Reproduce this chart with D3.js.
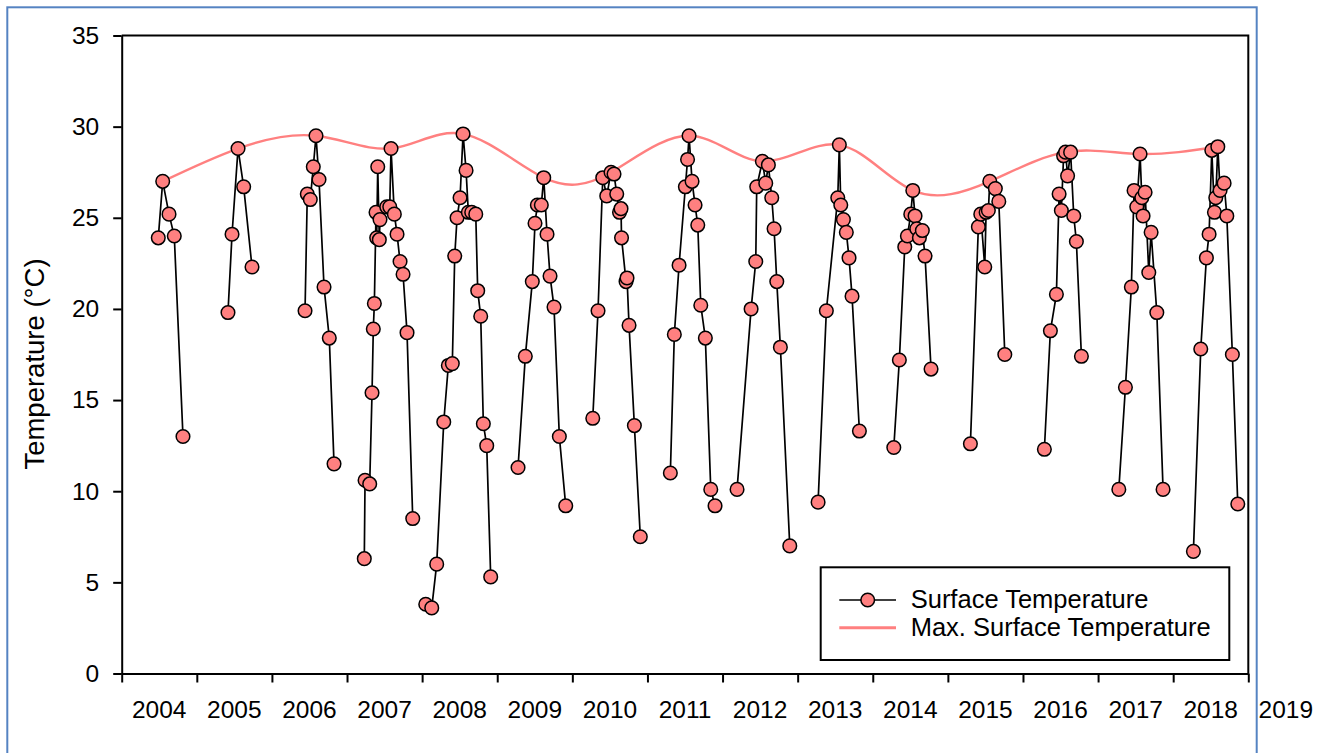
<!DOCTYPE html>
<html>
<head>
<meta charset="utf-8">
<script src="https://cdn.jsdelivr.net/npm/d3@7"></script>
<style>
  body { margin: 0; background: #fff; }
  svg { display: block; }
  text { font-family: "Liberation Sans", Arial, sans-serif; fill: #000; }
</style>
</head>
<body>
<svg id="chart" width="1330" height="753"></svg>
<script>
// ---- data -------------------------------------------------------------
const yearTicks = [2004, 2005, 2006, 2007, 2008, 2009, 2010, 2011, 2012, 2013, 2014, 2015, 2016, 2017, 2018, 2019];
const tempTicks = [0, 5, 10, 15, 20, 25, 30, 35];

// surface temperature samples (decimal year, °C); each year is its own survey run
const sampleDates = [
  2004.487, 2004.546, 2004.630, 2004.700, 2004.816,
  2005.415, 2005.469, 2005.549, 2005.624, 2005.735,
  2006.441, 2006.471, 2006.511, 2006.551, 2006.587, 2006.627, 2006.694, 2006.764, 2006.827,
  2007.230, 2007.240, 2007.302, 2007.333, 2007.350, 2007.364, 2007.386, 2007.395, 2007.409, 2007.430,
  2007.439, 2007.529, 2007.569, 2007.586, 2007.630, 2007.666, 2007.706, 2007.746, 2007.799, 2007.875,
  2008.048, 2008.128, 2008.194, 2008.288, 2008.349, 2008.402, 2008.434, 2008.465, 2008.505, 2008.545,
  2008.585, 2008.615, 2008.660, 2008.714, 2008.740, 2008.780, 2008.815, 2008.860, 2008.913,
  2009.277, 2009.374, 2009.467, 2009.503, 2009.534, 2009.587, 2009.619, 2009.663, 2009.703, 2009.756, 2009.827, 2009.912,
  2010.272, 2010.342, 2010.405, 2010.458, 2010.515, 2010.555, 2010.591, 2010.628, 2010.648, 2010.655,
  2010.715, 2010.728, 2010.755, 2010.826, 2010.905,
  2011.305, 2011.358, 2011.421, 2011.505, 2011.534, 2011.554, 2011.594, 2011.634, 2011.670, 2011.710, 2011.771, 2011.843, 2011.900,
  2012.193, 2012.380, 2012.442, 2012.455, 2012.530, 2012.575, 2012.610, 2012.655, 2012.686, 2012.722, 2012.770, 2012.895,
  2013.272, 2013.382, 2013.534, 2013.555, 2013.574, 2013.609, 2013.648, 2013.684, 2013.724, 2013.822,
  2014.280, 2014.354, 2014.426, 2014.461, 2014.506, 2014.533, 2014.563, 2014.586, 2014.621, 2014.660, 2014.696, 2014.776,
  2015.300, 2015.406, 2015.438, 2015.491, 2015.509, 2015.539, 2015.558, 2015.632, 2015.678, 2015.758,
  2016.285, 2016.365, 2016.445, 2016.481, 2016.511, 2016.541, 2016.567, 2016.594, 2016.634, 2016.676, 2016.711, 2016.778,
  2017.276, 2017.364, 2017.443, 2017.479, 2017.515, 2017.559, 2017.582, 2017.599, 2017.626, 2017.675, 2017.706, 2017.782, 2017.865,
  2018.269, 2018.367, 2018.442, 2018.478, 2018.514, 2018.549, 2018.567, 2018.594, 2018.624, 2018.678, 2018.714, 2018.788, 2018.860
];
const sampleTemps = [
  23.9, 27.0, 25.2, 24.0, 13.0,
  19.8, 24.1, 28.8, 26.7, 22.3,
  19.9, 26.3, 26.0, 27.8, 29.5, 27.1, 21.2, 18.4, 11.5,
  6.3, 10.6, 10.4, 15.4, 18.9, 20.3, 25.3, 23.9, 27.8, 23.8,
  24.9, 25.6, 25.6, 28.8, 25.2, 24.1, 22.6, 21.9, 18.7, 8.5,
  3.8, 3.6, 6.0, 13.8, 16.9, 17.0, 22.9, 25.0, 26.1, 29.6,
  27.6, 25.3, 25.3, 25.2, 21.0, 19.6, 13.7, 12.5, 5.3,
  11.3, 17.4, 21.5, 24.7, 25.7, 25.7, 27.2, 24.1, 21.8, 20.1, 13.0, 9.2,
  14.0, 19.9, 27.2, 26.2, 27.5, 27.4, 26.3, 25.3, 25.5, 23.9,
  21.5, 21.7, 19.1, 13.6, 7.5,
  11.0, 18.6, 22.4, 26.7, 28.2, 29.5, 27.0, 25.7, 24.6, 20.2, 18.4, 10.1, 9.2,
  10.1, 20.0, 22.6, 26.7, 28.1, 26.9, 27.9, 26.1, 24.4, 21.5, 17.9, 7.0,
  9.4, 19.9, 26.1, 29.0, 25.7, 24.9, 24.2, 22.8, 20.7, 13.3,
  12.4, 17.2, 23.4, 24.0, 25.2, 26.5, 25.1, 24.4, 23.9, 24.3, 22.9, 16.7,
  12.6, 24.5, 25.2, 22.3, 25.3, 25.4, 27.0, 26.6, 25.9, 17.5,
  12.3, 18.8, 20.8, 26.3, 25.4, 28.4, 28.6, 27.3, 28.6, 25.1, 23.7, 17.4,
  10.1, 15.7, 21.2, 26.5, 25.6, 28.5, 26.1, 25.1, 26.4, 22.0, 24.2, 19.8, 10.1,
  6.7, 17.8, 22.8, 24.1, 28.7, 25.3, 26.1, 28.9, 26.5, 26.9, 25.1, 17.5, 9.3
];

// annual maximum surface temperature
const maxDates = [2004.546, 2005.549, 2006.587, 2007.586, 2008.545, 2009.619, 2010.515, 2011.554,
                  2012.530, 2013.555, 2014.533, 2015.558, 2016.567, 2017.559, 2018.594];
const maxTemps = [27.0, 28.8, 29.5, 28.8, 29.6, 27.2, 27.5, 29.5, 28.1, 29.0, 26.5, 27.0, 28.6, 28.5, 28.9];

const legendLabels = ["Surface Temperature", "Max. Surface Temperature"];

// ---- layout -------------------------------------------------------------
const svg = d3.select("#chart");
const plot = { left: 121.7, right: 1248.3, top: 35.5, bottom: 673.5 };
const markerFill = "#FF8080";

const x = d3.scaleLinear().domain([2004, 2019]).range([plot.left, plot.right]);
const y = d3.scaleLinear().domain([0, 35]).range([plot.bottom, plot.top]);

// outer page frame
svg.append("rect")
  .attr("x", 7.3).attr("y", 7.3)
  .attr("width", 1249.4).attr("height", 800)
  .attr("fill", "none")
  .attr("stroke", "#5583C2")
  .attr("stroke-width", 2);

// ---- series -------------------------------------------------------------
const samples = sampleDates.map((d, i) => ({ date: d, temp: sampleTemps[i] }));
const byYear = d3.groups(samples, d => Math.floor(d.date));
const maxSeries = maxDates.map((d, i) => ({ date: d, temp: maxTemps[i] }));

const line = d3.line().x(d => x(d.date)).y(d => y(d.temp));
const maxLine = d3.line().x(d => x(d.date)).y(d => y(d.temp)).curve(d3.curveNatural);

svg.append("path")
  .datum(maxSeries)
  .attr("d", maxLine)
  .attr("fill", "none")
  .attr("stroke", markerFill)
  .attr("stroke-width", 2.4);

svg.append("g")
  .selectAll("path")
  .data(byYear)
  .join("path")
  .attr("d", d => line(d[1]))
  .attr("fill", "none")
  .attr("stroke", "#000")
  .attr("stroke-width", 1.7);

svg.append("g")
  .selectAll("circle")
  .data(samples)
  .join("circle")
  .attr("cx", d => x(d.date))
  .attr("cy", d => y(d.temp))
  .attr("r", 6.8)
  .attr("fill", markerFill)
  .attr("stroke", "#000")
  .attr("stroke-width", 1.5);

// ---- axes ---------------------------------------------------------------
// top and right frame lines
svg.append("path")
  .attr("d", `M${plot.left},${plot.top}H${plot.right}V${plot.bottom}`)
  .attr("fill", "none")
  .attr("stroke", "#000")
  .attr("stroke-width", 2);

const yAxis = svg.append("g")
  .attr("transform", `translate(${plot.left},0)`)
  .call(d3.axisLeft(y).tickValues(tempTicks).tickSize(8.5).tickSizeOuter(0).tickPadding(14));
yAxis.select(".domain").attr("stroke-width", 2);
yAxis.selectAll(".tick line").attr("stroke-width", 2);
yAxis.selectAll(".tick text")
  .style("font-family", '"Liberation Sans", Arial, sans-serif')
  .style("font-size", "24.5px");

const xAxis = svg.append("g")
  .attr("transform", `translate(0,${plot.bottom})`)
  .call(d3.axisBottom(x).tickValues(yearTicks).tickSize(9).tickSizeOuter(0).tickFormat(""));
xAxis.select(".domain").attr("stroke-width", 2);
xAxis.selectAll(".tick line").attr("stroke-width", 2);

// year labels sit in the middle of each year
svg.append("g")
  .selectAll("text")
  .data(yearTicks)
  .join("text")
  .attr("x", d => x(d + 0.5))
  .attr("y", 718)
  .attr("text-anchor", "middle")
  .style("font-size", "24.5px")
  .text(d => d);

// y axis title
svg.append("text")
  .attr("transform", "translate(43.5,364) rotate(-90)")
  .attr("text-anchor", "middle")
  .style("font-size", "27.5px")
  .text("Temperature (°C)");

// ---- legend -------------------------------------------------------------
const lg = svg.append("g");
lg.append("rect")
  .attr("x", 820.7).attr("y", 567.3)
  .attr("width", 408.6).attr("height", 92.7)
  .attr("fill", "#fff")
  .attr("stroke", "#000")
  .attr("stroke-width", 2);

lg.append("line")
  .attr("x1", 839.3).attr("x2", 896).attr("y1", 600).attr("y2", 600)
  .attr("stroke", "#000").attr("stroke-width", 1.7);
lg.append("circle")
  .attr("cx", 867.7).attr("cy", 600).attr("r", 6.8)
  .attr("fill", markerFill).attr("stroke", "#000").attr("stroke-width", 1.5);
lg.append("line")
  .attr("x1", 839.3).attr("x2", 896).attr("y1", 627.7).attr("y2", 627.7)
  .attr("stroke", markerFill).attr("stroke-width", 3);

lg.selectAll("text.lbl")
  .data(legendLabels)
  .join("text")
  .attr("class", "lbl")
  .attr("x", 910.7)
  .attr("y", (d, i) => 608 + i * 28)
  .style("font-size", "25.5px")
  .text(d => d);
</script>
</body>
</html>
